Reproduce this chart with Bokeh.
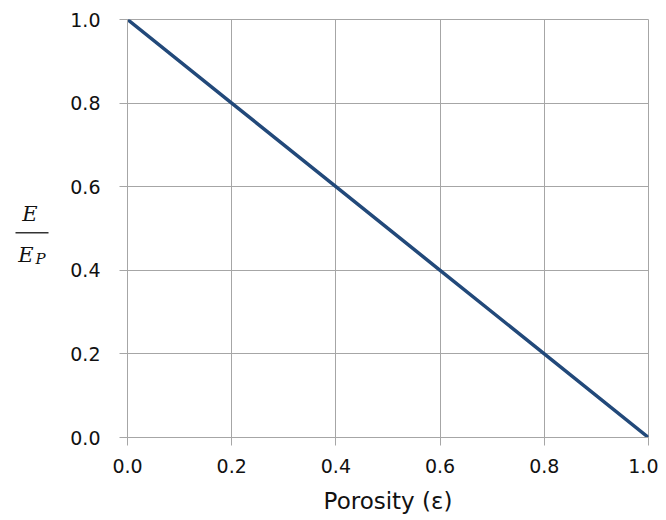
from bokeh.plotting import figure
from bokeh.models import Range1d, FixedTicker, PrintfTickFormatter
from bokeh.layouts import row
from bokeh.core.properties import value
from bokeh.embed import file_html
from bokeh.resources import INLINE

porosity = [0.0, 0.2, 0.4, 0.6, 0.8, 1.0]
modulus_ratio = [1.0, 0.8, 0.6, 0.4, 0.2, 0.0]
x_ticks = [0.0, 0.2, 0.4, 0.6, 0.8, 1.0]
y_ticks = [0.0, 0.2, 0.4, 0.6, 0.8, 1.0]

H = 518
LW = 60
TOP, BOTTOM = 19, 81

# ---- main chart ----
p = figure(width=598, height=H, output_backend="svg", toolbar_location=None,
           x_range=Range1d(0, 1), y_range=Range1d(0, 1),
           min_border_left=67, min_border_right=10, min_border_top=TOP, min_border_bottom=BOTTOM)

p.line(porosity, modulus_ratio, line_color="#22497A", line_width=3.5)

grey = "#a6a6a6"
ink = "#111111"
for ax in (p.xaxis[0], p.yaxis[0]):
    ax.axis_line_color = grey
    ax.major_tick_line_color = grey
    ax.minor_tick_line_color = None
    ax.major_tick_in = 0
    ax.major_tick_out = 8
    ax.major_label_text_font = "DejaVu Sans"
    ax.major_label_text_font_size = "19px"
    ax.major_label_text_color = ink
    ax.major_label_text_font_style = "normal"
    ax.formatter = PrintfTickFormatter(format="%.1f")
p.xaxis.ticker = FixedTicker(ticks=x_ticks)
p.yaxis.ticker = FixedTicker(ticks=y_ticks)
p.xaxis.major_label_standoff = 13
p.yaxis.major_label_standoff = 19

p.xaxis.axis_label = "Porosity (ε)"
p.xaxis.axis_label_text_font = "DejaVu Sans"
p.xaxis.axis_label_text_font_size = "23px"
p.xaxis.axis_label_text_font_style = "normal"
p.xaxis.axis_label_text_color = ink
p.xaxis.axis_label_standoff = 12

p.xgrid.grid_line_color = grey
p.ygrid.grid_line_color = grey
p.outline_line_color = grey

# ---- left strip holding the y-axis label E / E_P (same vertical scale as the chart) ----
q = figure(width=LW, height=H, output_backend="svg", toolbar_location=None,
           x_axis_type=None, y_axis_type=None, title=None,
           x_range=Range1d(0, LW), y_range=Range1d(0, 1),
           min_border_left=0, min_border_right=0,
           min_border_top=TOP, min_border_bottom=BOTTOM)
q.grid.visible = False
q.outline_line_color = None

serif = value("DejaVu Serif")
q.text(x=[29.5], y=[0.535], text=["E"], text_font=serif, text_font_style="italic",
       text_font_size="21px", text_align="center", text_baseline="middle", text_color=ink)
q.segment(x0=[15], y0=[0.490], x1=[48], y1=[0.490], line_color="#333333", line_width=1.6)
q.text(x=[25.5], y=[0.437], text=["E"], text_font=serif, text_font_style="italic",
       text_font_size="21px", text_align="center", text_baseline="middle", text_color=ink)
q.text(x=[40], y=[0.428], text=["P"], text_font=serif, text_font_style="italic",
       text_font_size="15px", text_align="center", text_baseline="middle", text_color=ink)

layout = row(q, p)
open("out.html", "w").write(file_html(layout, INLINE))
